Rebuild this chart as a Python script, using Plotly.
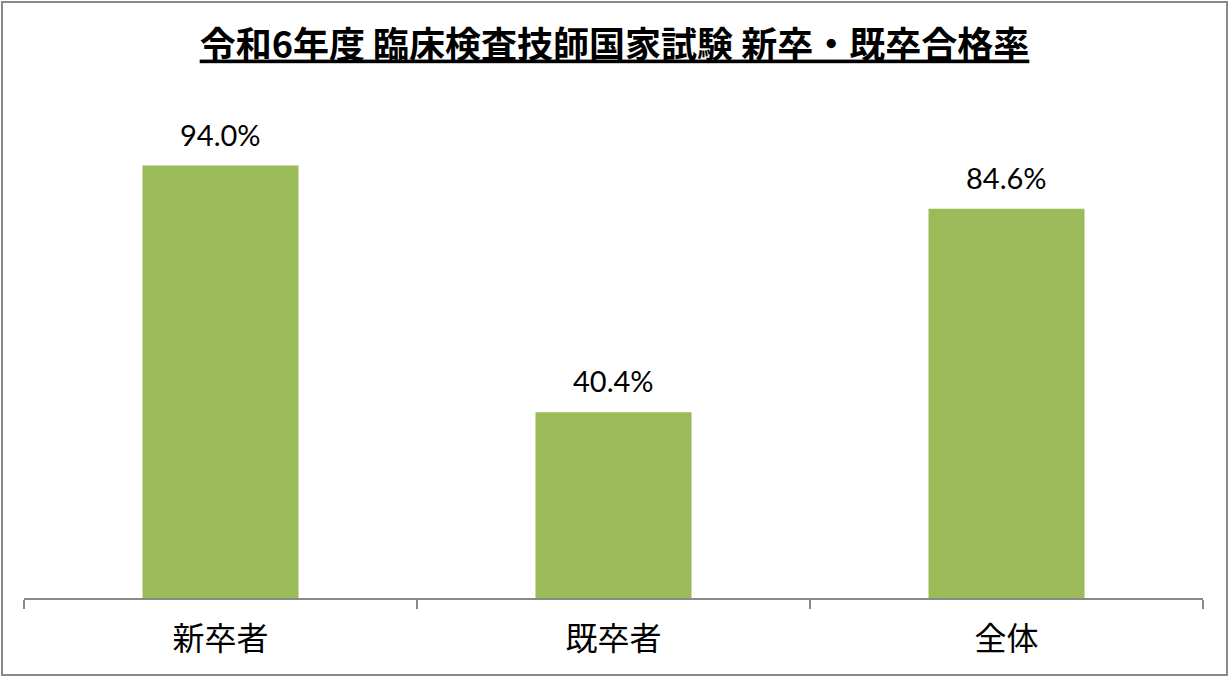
import plotly.graph_objects as go

categories = ["新卒者", "既卒者", "全体"]
pass_rates = [0.940, 0.404, 0.846]
value_labels = ["94.0%", "40.4%", "84.6%"]
title_text = "令和6年度 臨床検査技師国家試験 新卒・既卒合格率"

W, H = 1229, 677
ML, MR, MT, MB = 24, 26, 138, 79
PW, PH = W - ML - MR, H - MT - MB

BAR_COLOR = "#9BBB59"
GRAY = "#898989"
CJK = "Noto Sans CJK JP"

fig = go.Figure()
fig.add_trace(go.Bar(
    x=categories, y=pass_rates,
    marker=dict(color=BAR_COLOR, line=dict(width=0)),
    width=0.397,
    hoverinfo="x+y",
))

for c, v, t in zip(categories, pass_rates, value_labels):
    fig.add_annotation(
        x=c, y=v, text=t, showarrow=False,
        yanchor="bottom", yshift=12,
        font=dict(family="Lato, Open Sans, sans-serif", size=29, color="#000000"),
    )

# outer chart frame
def px_x(p):
    return (p - ML) / PW

def px_y(p):
    return (H - MB - p) / PH

fig.add_shape(
    type="rect", xref="paper", yref="paper",
    x0=px_x(2), x1=px_x(1227), y0=px_y(675), y1=px_y(2),
    line=dict(color=GRAY, width=2), fillcolor="rgba(0,0,0,0)", layer="below",
)

fig.update_layout(
    width=W, height=H,
    margin=dict(l=ML, r=MR, t=MT, b=MB, pad=0),
    paper_bgcolor="white", plot_bgcolor="white",
    showlegend=False,
    title=dict(
        text=title_text,
        x=0.5, xanchor="center",
        y=1 - 45 / H, yanchor="middle", yref="container",
        font=dict(family=CJK, size=36, color="#000000", weight="bold", lineposition="under"),
    ),
    xaxis=dict(
        type="category", range=[-0.5, 2.5],
        showline=True, linecolor=GRAY, linewidth=1.5,
        ticks="outside", tickson="boundaries", ticklen=9, tickcolor=GRAY, tickwidth=1.5,
        tickfont=dict(family=CJK, size=32, color="#000000"),
        showgrid=False, zeroline=False,
        ticklabelstandoff=12,
    ),
    yaxis=dict(
        range=[0, 1], visible=False, showgrid=False, zeroline=False,
    ),
)

fig.write_html(
    "out.html",
    config={"displayModeBar": False},
    post_script="document.body.style.margin='0px';document.body.style.padding='0px';document.body.style.overflow='hidden';",
)
